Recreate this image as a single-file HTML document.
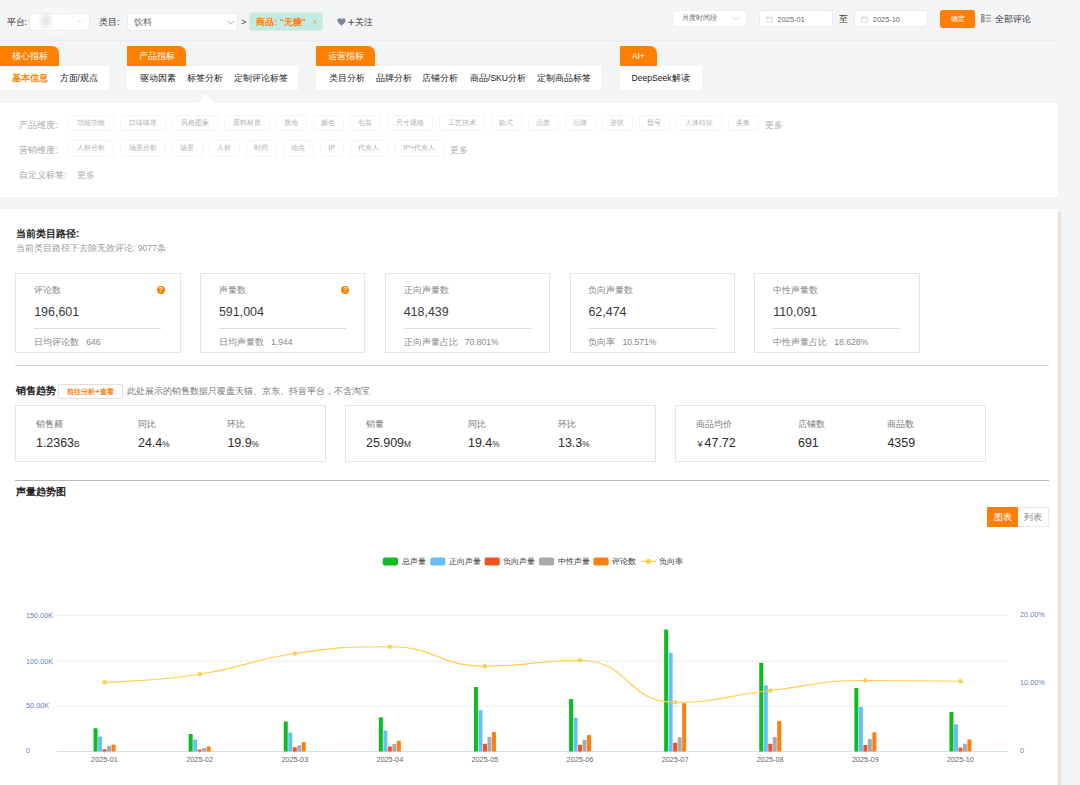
<!DOCTYPE html>
<html lang="zh">
<head>
<meta charset="utf-8">
<title>dashboard</title>
<style>
*{box-sizing:border-box;margin:0;padding:0}
html,body{width:1080px;height:785px;overflow:hidden;background:#f3f4f6;font-family:"Liberation Sans",sans-serif;color:#333}
.a{position:absolute;white-space:nowrap}
#root{position:relative;width:1080px;height:785px;overflow:hidden}
/* top bar */
.lbl{font-size:8.6px;line-height:12px;color:#333}
.sel{background:#fff;border:1px solid #eaecf1;border-radius:3px}
.tabh{background:#ff7f00;color:#fff;font-size:8.5px;line-height:21px;height:20px;text-align:center;border-top-right-radius:7px}
.tabb{background:#fff;height:24.5px;top:65.5px}
.tabb span{position:absolute;top:0;line-height:25px;font-size:8.6px;color:#1a1a1a;white-space:nowrap}
/* tags */
.tag{position:absolute;height:16.4px;border:1px solid #f4f4f4;border-radius:3.5px;font-size:7.4px;line-height:14.4px;color:#b0b0b0;text-align:center;white-space:nowrap;background:#fff}
.dim{font-size:8.6px;line-height:12px;color:#a8a8a8}
/* cards */
.card{position:absolute;top:273px;width:165.3px;height:79.6px;border:1px solid #e6e6e6;background:#fff}
.card .t{position:absolute;left:17.8px;top:10.8px;font-size:8.6px;line-height:11px;color:#888;white-space:nowrap}
.card .v{position:absolute;left:17.8px;top:31px;font-size:12.45px;line-height:15px;color:#3a3a3a;white-space:nowrap}
.card .h{position:absolute;left:18px;top:54.3px;width:127px;height:1px;background:#dedede}
.card .s{position:absolute;left:17.8px;top:63px;word-spacing:1.15px;font-size:8.6px;line-height:11px;color:#888;white-space:nowrap}
.card .q{position:absolute;left:140.3px;top:12.2px;width:8px;height:8px;border-radius:50%;background:#ff7f00;color:#fff;font-size:6.5px;line-height:8px;text-align:center;font-weight:bold}
.box{position:absolute;top:405px;height:57px;border:1px solid #e6e6e6;background:#fff}
.box .t{position:absolute;top:12.8px;font-size:8.6px;line-height:11px;color:#777;white-space:nowrap}
.box .v{position:absolute;top:30.2px;font-size:12.45px;line-height:15px;color:#2c2c2c;white-space:nowrap}
.box .v small{font-size:8.3px}
</style>
</head>
<body>
<div id="root">

<!-- ===== top bar ===== -->
<div class="a" style="left:0;top:40px;width:1058px;height:1px;background:#ebecee"></div>
<div class="a lbl" style="left:6.5px;top:16px">平台:</div>
<div class="a" style="left:30px;top:3px;width:54px;height:36px;background:radial-gradient(ellipse 26px 17px at 27px 18px,rgba(255,255,255,.75),rgba(255,255,255,.45) 55%,rgba(255,255,255,0) 100%)"></div>
<div class="a sel" style="left:29px;top:13px;width:60.5px;height:17.5px"></div>
<div class="a" style="left:33px;top:6px;width:46px;height:30px;background:radial-gradient(ellipse 9px 11px at 13px 15px,rgba(190,190,194,.48),rgba(222,222,226,.22) 70%,rgba(255,255,255,0) 100%)"></div>
<svg class="a" style="left:76.5px;top:19px" width="7" height="5" viewBox="0 0 7 5"><path d="M0.7,0.9 L3.2,3.6 L6.3,0.4" fill="none" stroke="#d6d6d8" stroke-width="0.8"/></svg>
<div class="a lbl" style="left:99px;top:16px">类目:</div>
<div class="a sel" style="left:127px;top:13px;width:110.5px;height:17.5px"></div>
<div class="a" style="left:133.5px;top:15.7px;font-size:8.8px;line-height:12px;color:#666">饮料</div>
<svg class="a" style="left:227px;top:19.5px" width="8" height="6" viewBox="0 0 8 6"><path d="M0.6,0.8 L3.7,4.2 L6.9,0.8" fill="none" stroke="#9a9a9a" stroke-width="0.8"/></svg>
<div class="a" style="left:241px;top:15.5px;font-size:9px;line-height:12px;color:#444">&gt;</div>
<div class="a" style="left:249.3px;top:12.4px;width:73.3px;height:18.5px;background:#c1ece5;border:1px solid #e6e8cf;border-radius:3px"></div>
<div class="a" style="left:256.4px;top:15.7px;font-size:8.6px;line-height:12px;color:#ff7f0e;font-weight:bold">商品: "无糖"</div>
<svg class="a" style="left:311.5px;top:19px" width="6" height="6" viewBox="0 0 6 6"><path d="M0.8,0.8 L5,5 M5,0.8 L0.8,5" fill="none" stroke="#f5a04e" stroke-width="0.8"/></svg>
<svg class="a" style="left:337px;top:18.4px" width="9" height="8" viewBox="0 0 9 8"><path d="M4.5,7.4 C2.2,5.6 0.4,4.2 0.4,2.4 C0.4,1.1 1.4,0.3 2.5,0.3 C3.4,0.3 4.1,0.8 4.5,1.5 C4.9,0.8 5.6,0.3 6.5,0.3 C7.6,0.3 8.6,1.1 8.6,2.4 C8.6,4.2 6.8,5.6 4.5,7.4 Z" fill="#75869c"/></svg>
<svg class="a" style="left:348px;top:19px" width="7" height="7" viewBox="0 0 7 7"><path d="M3.2,0.3 V6.3 M0.2,3.3 H6.2" fill="none" stroke="#333" stroke-width="0.8"/></svg>
<div class="a lbl" style="left:355.3px;top:16.2px">关注</div>

<div class="a sel" style="left:672px;top:10px;width:74.6px;height:16.6px;border-color:#eff0f4"></div>
<div class="a" style="left:682px;top:12.4px;font-size:7.4px;line-height:11px;color:#666">月度时间段</div>
<svg class="a" style="left:732px;top:16px" width="8" height="5" viewBox="0 0 8 5"><path d="M0.6,0.5 L3.9,3.9 L7.2,0.5" fill="none" stroke="#cbcbcd" stroke-width="0.8"/></svg>
<div class="a sel" style="left:759px;top:10.3px;width:73.6px;height:17px"></div>
<svg class="a" style="left:766px;top:16.2px" width="7" height="7" viewBox="0 0 7 7"><path d="M0.4,1.2 H6.6 V6.4 H0.4 Z M0.4,2.6 H6.6 M1.9,0.3 V1.6 M5.1,0.3 V1.6" fill="none" stroke="#d4d7e2" stroke-width="0.8"/></svg>
<div class="a" style="left:777.6px;top:13.5px;font-size:7.4px;line-height:11px;color:#666">2025-01</div>
<div class="a" style="left:839px;top:12.5px;font-size:8.6px;line-height:12px;color:#444">至</div>
<div class="a sel" style="left:854.2px;top:10.3px;width:73.6px;height:17px"></div>
<svg class="a" style="left:861.2px;top:16.2px" width="7" height="7" viewBox="0 0 7 7"><path d="M0.4,1.2 H6.6 V6.4 H0.4 Z M0.4,2.6 H6.6 M1.9,0.3 V1.6 M5.1,0.3 V1.6" fill="none" stroke="#d4d7e2" stroke-width="0.8"/></svg>
<div class="a" style="left:872.8px;top:13.5px;font-size:7.4px;line-height:11px;color:#666">2025-10</div>
<div class="a" style="left:940.3px;top:10.3px;width:34.7px;height:17.3px;background:#ff7f05;border-radius:2.5px;color:#fff;font-size:7.4px;line-height:17px;text-align:center">确定</div>
<svg class="a" style="left:981px;top:14.2px" width="10" height="9" viewBox="0 0 10 9"><path d="M0.4,0.4 H3.2 V2.2 H0.4 Z M0.4,3.3 H3.2 V5.1 H0.4 Z M0.4,6.2 H3.2 V8 H0.4 Z M4.8,1.3 H9.8 M4.8,4.2 H9.8 M4.8,7.1 H9.8" fill="none" stroke="#666" stroke-width="0.75"/></svg>
<div class="a lbl" style="left:995px;top:12.6px">全部评论</div>

<!-- ===== tab groups ===== -->
<div class="a tabh" style="left:0;top:45.5px;width:59px">核心指标</div>
<div class="a tabb" style="left:0;width:109px"><span style="left:12px;color:#ff7f00;font-weight:bold">基本信息</span><span style="left:59.6px">方面/观点</span></div>

<div class="a tabh" style="left:127px;top:45.5px;width:59px">产品指标</div>
<div class="a tabb" style="left:127px;width:171px"><span style="left:13px">驱动因素</span><span style="left:60px">标签分析</span><span style="left:106.8px">定制评论标签</span></div>

<div class="a tabh" style="left:316px;top:45.5px;width:59px">运营指标</div>
<div class="a tabb" style="left:316px;width:285px"><span style="left:13px">类目分析</span><span style="left:60px">品牌分析</span><span style="left:106px">店铺分析</span><span style="left:154px">商品/SKU分析</span><span style="left:221px">定制商品标签</span></div>

<div class="a tabh" style="left:619.5px;top:45.5px;width:37.5px">AI+</div>
<div class="a tabb" style="left:619.5px;width:82.5px"><span style="left:12px">DeepSeek解读</span></div>

<!-- ===== tag panel ===== -->
<div class="a" style="left:0;top:102.5px;width:1058px;height:94.3px;background:#fff"></div>
<div class="a" style="left:197.6px;top:93.8px;width:0;height:0;border-left:8.9px solid transparent;border-right:8.9px solid transparent;border-bottom:9px solid #fff"></div>

<div class="a dim" style="left:19px;top:118.5px">产品维度:</div>
<div class="tag" style="left:68px;top:115px;width:45.6px">功能功效</div>
<div class="tag" style="left:120px;top:115px;width:45.6px">口味味道</div>
<div class="tag" style="left:172px;top:115px;width:45.6px">风格图案</div>
<div class="tag" style="left:224px;top:115px;width:45.6px">原料材质</div>
<div class="tag" style="left:276px;top:115px;width:30.6px">质地</div>
<div class="tag" style="left:313px;top:115px;width:30.6px">颜色</div>
<div class="tag" style="left:350px;top:115px;width:30.6px">包装</div>
<div class="tag" style="left:387px;top:115px;width:45.6px">尺寸规格</div>
<div class="tag" style="left:439px;top:115px;width:45.6px">工艺技术</div>
<div class="tag" style="left:491px;top:115px;width:30.6px">款式</div>
<div class="tag" style="left:528px;top:115px;width:30.6px">品类</div>
<div class="tag" style="left:565px;top:115px;width:30.6px">品牌</div>
<div class="tag" style="left:602px;top:115px;width:30.6px">形状</div>
<div class="tag" style="left:639px;top:115px;width:30.6px">型号</div>
<div class="tag" style="left:676px;top:115px;width:45.6px">人体特征</div>
<div class="tag" style="left:728px;top:115px;width:30.6px">美食</div>
<div class="a dim" style="left:765px;top:118.5px;color:#b3b3b3">更多</div>
<div class="a dim" style="left:19px;top:143.7px">营销维度:</div>
<div class="tag" style="left:68px;top:140.2px;width:45.6px">人群分析</div>
<div class="tag" style="left:120px;top:140.2px;width:45.6px">场景分析</div>
<div class="tag" style="left:172px;top:140.2px;width:30.6px">场景</div>
<div class="tag" style="left:209px;top:140.2px;width:30.6px">人群</div>
<div class="tag" style="left:246px;top:140.2px;width:30.6px">时间</div>
<div class="tag" style="left:283px;top:140.2px;width:30.6px">地点</div>
<div class="tag" style="left:320px;top:140.2px;width:23.6px">IP</div>
<div class="tag" style="left:350px;top:140.2px;width:37.6px">代言人</div>
<div class="tag" style="left:394px;top:140.2px;width:50.6px">IP+代言人</div>
<div class="a dim" style="left:450px;top:143.5px;color:#b3b3b3">更多</div>
<div class="a dim" style="left:19px;top:169px">自定义标签:</div>
<div class="a dim" style="left:77px;top:169px;color:#b3b3b3">更多</div>
<!-- ===== main panel ===== -->
<div class="a" style="left:1058px;top:212px;width:4px;height:580px;background:linear-gradient(to right,#ead8ce 0%,#ecdfd8 40%,#f3f4f6 100%)"></div>
<div class="a" id="main" style="left:0;top:208.75px;width:1058.2px;height:600px;background:#fff"></div>

<div class="a" style="left:16px;top:227px;font-size:10px;line-height:13px;font-weight:bold;color:#222">当前类目路径:</div>
<div class="a" style="left:16px;top:242.5px;font-size:8.6px;line-height:11px;color:#999">当前类目路径下去除无效评论: 9077条</div>
<div class="card" style="left:15.4px"><div class="t">评论数</div><div class="q">?</div><div class="v">196,601</div><div class="h"></div><div class="s">日均评论数&nbsp; 646</div></div>
<div class="card" style="left:200.15px"><div class="t">声量数</div><div class="q">?</div><div class="v">591,004</div><div class="h"></div><div class="s">日均声量数&nbsp; 1,944</div></div>
<div class="card" style="left:384.9px"><div class="t">正向声量数</div><div class="v">418,439</div><div class="h"></div><div class="s">正向声量占比&nbsp; 70.801%</div></div>
<div class="card" style="left:569.65px"><div class="t">负向声量数</div><div class="v">62,474</div><div class="h"></div><div class="s">负向率&nbsp; 10.571%</div></div>
<div class="card" style="left:754.4px"><div class="t">中性声量数</div><div class="v">110,091</div><div class="h"></div><div class="s">中性声量占比&nbsp; 18.628%</div></div>
<div class="a" style="left:15px;top:365px;width:1034px;height:1px;background:#d4d4d4"></div>
<div class="a" style="left:15.6px;top:384px;font-size:10px;line-height:13px;font-weight:bold;color:#222">销售趋势</div>
<div class="a" style="left:58.3px;top:384.3px;width:64.4px;height:14.5px;border:1px solid #e0e0e0;border-radius:2px;background:#fff;color:#ff7f0e;font-weight:bold;font-size:7.36px;line-height:13px;text-align:center">前往分析+查看</div>
<div class="a" style="left:126.6px;top:386.2px;font-size:8.6px;line-height:11px;color:#777">此处展示的销售数据只覆盖天猫、京东、抖音平台，不含淘宝</div>

<div class="box" style="left:15px;width:311px"><div class="t" style="left:20px">销售额</div><div class="v" style="left:20px">1.2363<small>B</small></div><div class="t" style="left:122px">同比</div><div class="v" style="left:122px">24.4<small>%</small></div><div class="t" style="left:211.4px">环比</div><div class="v" style="left:211.4px">19.9<small>%</small></div></div>
<div class="box" style="left:345px;width:311px"><div class="t" style="left:20px">销量</div><div class="v" style="left:20px">25.909<small>M</small></div><div class="t" style="left:122px">同比</div><div class="v" style="left:122px">19.4<small>%</small></div><div class="t" style="left:212px">环比</div><div class="v" style="left:212px">13.3<small>%</small></div></div>
<div class="box" style="left:675px;width:311px"><div class="t" style="left:20px">商品均价</div><div class="v" style="left:20px"><small style="font-size:9.5px;margin-left:1.4px;margin-right:1.9px;color:#444">¥</small>47.72</div><div class="t" style="left:122px">店铺数</div><div class="v" style="left:122px">691</div><div class="t" style="left:211.4px">商品数</div><div class="v" style="left:211.4px">4359</div></div>

<div class="a" style="left:15px;top:480px;width:1034px;height:1px;background:#b8b8b8"></div>
<div class="a" style="left:16px;top:485.3px;font-size:10px;line-height:13px;font-weight:bold;color:#222">声量趋势图</div>
<div class="a" style="left:987.2px;top:507px;width:31px;height:20.4px;background:#ff7f05;color:#fff;font-size:8.6px;line-height:20.4px;text-align:center">图表</div>
<div class="a" style="left:1018.2px;top:507px;width:30.8px;height:20.4px;background:#fff;border:1px solid #e8e8e8;border-left:none;color:#888;font-size:8.6px;line-height:18.4px;text-align:center">列表</div>
<!--CHART_START-->
<svg class="a" style="left:0;top:540px" width="1058" height="245" viewBox="0 540 1058 245" font-family="'Liberation Sans',sans-serif">
<rect x="57" y="705.60" width="951" height="0.8" fill="#e4e6ea"/>
<rect x="57" y="660.80" width="951" height="0.8" fill="#e4e6ea"/>
<rect x="57" y="614.90" width="951" height="0.8" fill="#e4e6ea"/>
<rect x="57" y="751.00" width="951" height="0.8" fill="#c9d9ee"/>
<rect x="104.15" y="751.40" width="0.8" height="2.6" fill="#c9d9ee"/>
<rect x="199.25" y="751.40" width="0.8" height="2.6" fill="#c9d9ee"/>
<rect x="294.35" y="751.40" width="0.8" height="2.6" fill="#c9d9ee"/>
<rect x="389.45" y="751.40" width="0.8" height="2.6" fill="#c9d9ee"/>
<rect x="484.55" y="751.40" width="0.8" height="2.6" fill="#c9d9ee"/>
<rect x="579.65" y="751.40" width="0.8" height="2.6" fill="#c9d9ee"/>
<rect x="674.75" y="751.40" width="0.8" height="2.6" fill="#c9d9ee"/>
<rect x="769.85" y="751.40" width="0.8" height="2.6" fill="#c9d9ee"/>
<rect x="864.95" y="751.40" width="0.8" height="2.6" fill="#c9d9ee"/>
<rect x="960.05" y="751.40" width="0.8" height="2.6" fill="#c9d9ee"/>
<text x="26" y="753.30" font-size="7.3" fill="#6385bb">0</text>
<text x="26" y="708.40" font-size="7.3" fill="#6385bb">50.00K</text>
<text x="26" y="663.60" font-size="7.3" fill="#6385bb">100.00K</text>
<text x="26" y="617.70" font-size="7.3" fill="#6385bb">150.00K</text>
<text x="1020" y="753.30" font-size="7.3" fill="#6385bb">0</text>
<text x="1020" y="685.25" font-size="7.3" fill="#6385bb">10.00%</text>
<text x="1020" y="617.20" font-size="7.3" fill="#6385bb">20.00%</text>
<text x="104.5" y="761.5" font-size="7.3" fill="#666" text-anchor="middle">2025-01</text>
<text x="199.6" y="761.5" font-size="7.3" fill="#666" text-anchor="middle">2025-02</text>
<text x="294.8" y="761.5" font-size="7.3" fill="#666" text-anchor="middle">2025-03</text>
<text x="389.8" y="761.5" font-size="7.3" fill="#666" text-anchor="middle">2025-04</text>
<text x="484.9" y="761.5" font-size="7.3" fill="#666" text-anchor="middle">2025-05</text>
<text x="580.0" y="761.5" font-size="7.3" fill="#666" text-anchor="middle">2025-06</text>
<text x="675.1" y="761.5" font-size="7.3" fill="#666" text-anchor="middle">2025-07</text>
<text x="770.2" y="761.5" font-size="7.3" fill="#666" text-anchor="middle">2025-08</text>
<text x="865.3" y="761.5" font-size="7.3" fill="#666" text-anchor="middle">2025-09</text>
<text x="960.4" y="761.5" font-size="7.3" fill="#666" text-anchor="middle">2025-10</text>
<path d="M93.55,751.40V728.75Q93.55,728.20 94.10,728.20H97.00Q97.55,728.20 97.55,728.75V751.40Z" fill="#0bbd20"/>
<path d="M98.05,751.40V736.95Q98.05,736.40 98.60,736.40H101.50Q102.05,736.40 102.05,736.95V751.40Z" fill="#69bdfc"/>
<path d="M102.55,751.40V749.75Q102.55,749.20 103.10,749.20H106.00Q106.55,749.20 106.55,749.75V751.40Z" fill="#f5511f"/>
<path d="M107.05,751.40V746.55Q107.05,746.00 107.60,746.00H110.50Q111.05,746.00 111.05,746.55V751.40Z" fill="#aaaaaa"/>
<path d="M111.55,751.40V745.35Q111.55,744.80 112.10,744.80H115.00Q115.55,744.80 115.55,745.35V751.40Z" fill="#ff7f0e"/>
<path d="M188.65,751.40V734.55Q188.65,734.00 189.20,734.00H192.10Q192.65,734.00 192.65,734.55V751.40Z" fill="#0bbd20"/>
<path d="M193.15,751.40V740.15Q193.15,739.60 193.70,739.60H196.60Q197.15,739.60 197.15,740.15V751.40Z" fill="#69bdfc"/>
<path d="M197.65,751.40V749.95Q197.65,749.40 198.20,749.40H201.10Q201.65,749.40 201.65,749.95V751.40Z" fill="#f5511f"/>
<path d="M202.15,751.40V748.55Q202.15,748.00 202.70,748.00H205.60Q206.15,748.00 206.15,748.55V751.40Z" fill="#aaaaaa"/>
<path d="M206.65,751.40V746.95Q206.65,746.40 207.20,746.40H210.10Q210.65,746.40 210.65,746.95V751.40Z" fill="#ff7f0e"/>
<path d="M283.75,751.40V721.95Q283.75,721.40 284.30,721.40H287.20Q287.75,721.40 287.75,721.95V751.40Z" fill="#0bbd20"/>
<path d="M288.25,751.40V732.95Q288.25,732.40 288.80,732.40H291.70Q292.25,732.40 292.25,732.95V751.40Z" fill="#69bdfc"/>
<path d="M292.75,751.40V747.75Q292.75,747.20 293.30,747.20H296.20Q296.75,747.20 296.75,747.75V751.40Z" fill="#f5511f"/>
<path d="M297.25,751.40V745.75Q297.25,745.20 297.80,745.20H300.70Q301.25,745.20 301.25,745.75V751.40Z" fill="#aaaaaa"/>
<path d="M301.75,751.40V742.45Q301.75,741.90 302.30,741.90H305.20Q305.75,741.90 305.75,742.45V751.40Z" fill="#ff7f0e"/>
<path d="M378.85,751.40V717.75Q378.85,717.20 379.40,717.20H382.30Q382.85,717.20 382.85,717.75V751.40Z" fill="#0bbd20"/>
<path d="M383.35,751.40V730.95Q383.35,730.40 383.90,730.40H386.80Q387.35,730.40 387.35,730.95V751.40Z" fill="#69bdfc"/>
<path d="M387.85,751.40V746.95Q387.85,746.40 388.40,746.40H391.30Q391.85,746.40 391.85,746.95V751.40Z" fill="#f5511f"/>
<path d="M392.35,751.40V744.45Q392.35,743.90 392.90,743.90H395.80Q396.35,743.90 396.35,744.45V751.40Z" fill="#aaaaaa"/>
<path d="M396.85,751.40V741.25Q396.85,740.70 397.40,740.70H400.30Q400.85,740.70 400.85,741.25V751.40Z" fill="#ff7f0e"/>
<path d="M473.95,751.40V687.45Q473.95,686.90 474.50,686.90H477.40Q477.95,686.90 477.95,687.45V751.40Z" fill="#0bbd20"/>
<path d="M478.45,751.40V710.75Q478.45,710.20 479.00,710.20H481.90Q482.45,710.20 482.45,710.75V751.40Z" fill="#69bdfc"/>
<path d="M482.95,751.40V744.25Q482.95,743.70 483.50,743.70H486.40Q486.95,743.70 486.95,744.25V751.40Z" fill="#f5511f"/>
<path d="M487.45,751.40V737.25Q487.45,736.70 488.00,736.70H490.90Q491.45,736.70 491.45,737.25V751.40Z" fill="#aaaaaa"/>
<path d="M491.95,751.40V732.45Q491.95,731.90 492.50,731.90H495.40Q495.95,731.90 495.95,732.45V751.40Z" fill="#ff7f0e"/>
<path d="M569.05,751.40V699.45Q569.05,698.90 569.60,698.90H572.50Q573.05,698.90 573.05,699.45V751.40Z" fill="#0bbd20"/>
<path d="M573.55,751.40V718.25Q573.55,717.70 574.10,717.70H577.00Q577.55,717.70 577.55,718.25V751.40Z" fill="#69bdfc"/>
<path d="M578.05,751.40V745.25Q578.05,744.70 578.60,744.70H581.50Q582.05,744.70 582.05,745.25V751.40Z" fill="#f5511f"/>
<path d="M582.55,751.40V740.45Q582.55,739.90 583.10,739.90H586.00Q586.55,739.90 586.55,740.45V751.40Z" fill="#aaaaaa"/>
<path d="M587.05,751.40V735.45Q587.05,734.90 587.60,734.90H590.50Q591.05,734.90 591.05,735.45V751.40Z" fill="#ff7f0e"/>
<path d="M664.15,751.40V629.95Q664.15,629.40 664.70,629.40H667.60Q668.15,629.40 668.15,629.95V751.40Z" fill="#0bbd20"/>
<path d="M668.65,751.40V653.25Q668.65,652.70 669.20,652.70H672.10Q672.65,652.70 672.65,653.25V751.40Z" fill="#69bdfc"/>
<path d="M673.15,751.40V743.25Q673.15,742.70 673.70,742.70H676.60Q677.15,742.70 677.15,743.25V751.40Z" fill="#f5511f"/>
<path d="M677.65,751.40V737.75Q677.65,737.20 678.20,737.20H681.10Q681.65,737.20 681.65,737.75V751.40Z" fill="#aaaaaa"/>
<path d="M682.15,751.40V703.75Q682.15,703.20 682.70,703.20H685.60Q686.15,703.20 686.15,703.75V751.40Z" fill="#ff7f0e"/>
<path d="M759.25,751.40V663.25Q759.25,662.70 759.80,662.70H762.70Q763.25,662.70 763.25,663.25V751.40Z" fill="#0bbd20"/>
<path d="M763.75,751.40V685.75Q763.75,685.20 764.30,685.20H767.20Q767.75,685.20 767.75,685.75V751.40Z" fill="#69bdfc"/>
<path d="M768.25,751.40V744.25Q768.25,743.70 768.80,743.70H771.70Q772.25,743.70 772.25,744.25V751.40Z" fill="#f5511f"/>
<path d="M772.75,751.40V737.45Q772.75,736.90 773.30,736.90H776.20Q776.75,736.90 776.75,737.45V751.40Z" fill="#aaaaaa"/>
<path d="M777.25,751.40V721.45Q777.25,720.90 777.80,720.90H780.70Q781.25,720.90 781.25,721.45V751.40Z" fill="#ff7f0e"/>
<path d="M854.35,751.40V688.45Q854.35,687.90 854.90,687.90H857.80Q858.35,687.90 858.35,688.45V751.40Z" fill="#0bbd20"/>
<path d="M858.85,751.40V707.45Q858.85,706.90 859.40,706.90H862.30Q862.85,706.90 862.85,707.45V751.40Z" fill="#69bdfc"/>
<path d="M863.35,751.40V745.45Q863.35,744.90 863.90,744.90H866.80Q867.35,744.90 867.35,745.45V751.40Z" fill="#f5511f"/>
<path d="M867.85,751.40V739.45Q867.85,738.90 868.40,738.90H871.30Q871.85,738.90 871.85,739.45V751.40Z" fill="#aaaaaa"/>
<path d="M872.35,751.40V732.75Q872.35,732.20 872.90,732.20H875.80Q876.35,732.20 876.35,732.75V751.40Z" fill="#ff7f0e"/>
<path d="M949.45,751.40V712.45Q949.45,711.90 950.00,711.90H952.90Q953.45,711.90 953.45,712.45V751.40Z" fill="#0bbd20"/>
<path d="M953.95,751.40V724.75Q953.95,724.20 954.50,724.20H957.40Q957.95,724.20 957.95,724.75V751.40Z" fill="#69bdfc"/>
<path d="M958.45,751.40V747.95Q958.45,747.40 959.00,747.40H961.90Q962.45,747.40 962.45,747.95V751.40Z" fill="#f5511f"/>
<path d="M962.95,751.40V744.25Q962.95,743.70 963.50,743.70H966.40Q966.95,743.70 966.95,744.25V751.40Z" fill="#aaaaaa"/>
<path d="M967.45,751.40V739.95Q967.45,739.40 968.00,739.40H970.90Q971.45,739.40 971.45,739.95V751.40Z" fill="#ff7f0e"/>
<path d="M104.55,682.25 C104.55,682.25 152.57,681.37 199.65,674.25 C247.67,666.99 246.71,660.39 294.75,653.50 C341.81,646.75 342.73,646.75 389.85,646.75 C437.83,646.75 436.96,666.25 484.95,666.25 C532.06,666.25 534.57,660.25 580.05,660.25 C629.67,660.25 625.66,702.25 675.15,702.25 C720.76,702.25 722.65,695.94 770.25,690.50 C817.75,685.07 817.67,680.50 865.35,680.50 C912.77,680.50 960.45,681.25 960.45,681.25" fill="none" stroke="#ffd04c" stroke-width="1.2" stroke-linejoin="round"/>
<circle cx="104.55" cy="682.25" r="2.3" fill="#ffd04c"/>
<circle cx="199.65" cy="674.25" r="2.3" fill="#ffd04c"/>
<circle cx="294.75" cy="653.50" r="2.3" fill="#ffd04c"/>
<circle cx="389.85" cy="646.75" r="2.3" fill="#ffd04c"/>
<circle cx="484.95" cy="666.25" r="2.3" fill="#ffd04c"/>
<circle cx="580.05" cy="660.25" r="2.3" fill="#ffd04c"/>
<circle cx="675.15" cy="702.25" r="2.3" fill="#ffd04c"/>
<circle cx="770.25" cy="690.50" r="2.3" fill="#ffd04c"/>
<circle cx="865.35" cy="680.50" r="2.3" fill="#ffd04c"/>
<circle cx="960.45" cy="681.25" r="2.3" fill="#ffd04c"/>
<rect x="382.8" y="557.4" width="15.2" height="8.2" rx="2" fill="#0bbd20"/>
<text x="402" y="564.2" font-size="7.5" fill="#333">总声量</text>
<rect x="430.2" y="557.4" width="15.2" height="8.2" rx="2" fill="#69bdfc"/>
<text x="449" y="564.2" font-size="7.5" fill="#333">正向声量</text>
<rect x="484.6" y="557.4" width="15.2" height="8.2" rx="2" fill="#f5511f"/>
<text x="503.2" y="564.2" font-size="7.5" fill="#333">负向声量</text>
<rect x="539" y="557.4" width="15.2" height="8.2" rx="2" fill="#aaaaaa"/>
<text x="557.6" y="564.2" font-size="7.5" fill="#333">中性声量</text>
<rect x="593.4" y="557.4" width="15.2" height="8.2" rx="2" fill="#ff7f0e"/>
<text x="612" y="564.2" font-size="7.5" fill="#333">评论数</text>
<rect x="641" y="560.8" width="15" height="1.2" fill="#ffd04c"/><circle cx="648.5" cy="561.4" r="2.6" fill="#ffd04c"/>
<text x="659" y="564.2" font-size="7.5" fill="#333">负向率</text>
</svg>
<!--CHART_END-->

</div>
</body>
</html>
